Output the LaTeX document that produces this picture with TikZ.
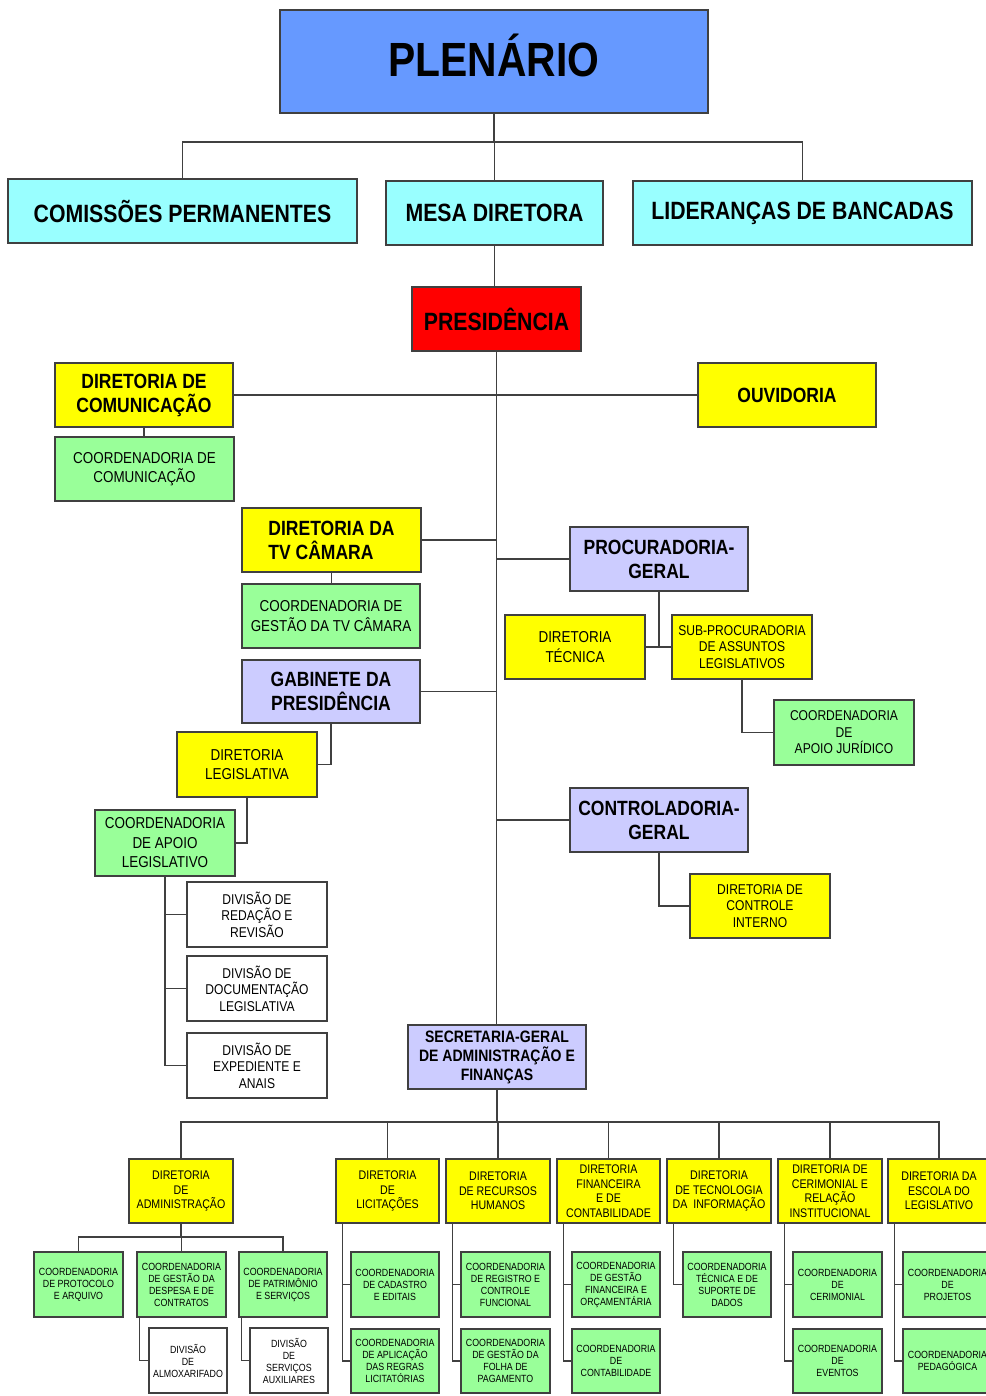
\documentclass[tikz,border=0pt]{standalone}
\usepackage{fontspec}
\setmainfont{Liberation Sans}[FakeStretch=0.85]
\usepackage{xcolor}
\usetikzlibrary{positioning}
\usetikzlibrary{calc}

\definecolor{plenblue}{HTML}{6699FF}
\definecolor{topcyan}{HTML}{99FFFF}
\definecolor{presred}{HTML}{FF0000}
\definecolor{diryellow}{HTML}{FFFF00}
\definecolor{coordgreen}{HTML}{99FF99}
\definecolor{gablilac}{HTML}{CCCCFF}
\definecolor{edgegray}{HTML}{404040}

\tikzset{
	orgbox/.style={draw=edgegray, line width=1.1pt, inner sep=0pt, align=center},
	boxsize/.style 2 args={minimum width=#1pt, minimum height=#2pt},
	blue box/.style={orgbox, fill=plenblue},
	cyan box/.style={orgbox, fill=topcyan},
	red box/.style={orgbox, fill=presred},
	yellow box/.style={orgbox, fill=diryellow},
	green box/.style={orgbox, fill=coordgreen},
	lilac box/.style={orgbox, fill=gablilac},
	white box/.style={orgbox, fill=white},
	hugebold/.style={font=\fontsize{48}{52}\selectfont\bfseries},
	topbold/.style={font=\fontsize{25}{29}\selectfont\bfseries},
	midbold/.style={font=\fontsize{20.6}{24}\selectfont\bfseries},
	secbold/.style={font=\fontsize{16.5}{19}\selectfont\bfseries},
	midreg/.style={font=\fontsize{15.8}{19.5}\selectfont},
	smallreg/.style={font=\fontsize{14.2}{16.5}\selectfont},
	dirsmall/.style={font=\fontsize{12.5}{14.5}\selectfont},
	coordsmall/.style={font=\fontsize{10.4}{12}\selectfont},
	link/.style={draw=edgegray, line width=1.1pt}
}

\begin{document}
\begin{tikzpicture}[x=1pt, y=-1pt]
	\useasboundingbox[fill=white] (0,0) rectangle (985,1396);

	% top level
	\node[blue box, hugebold, boxsize={428}{103}, text height=34pt, text depth=4pt] (plenario) at (494,61.5) {PLEN\'ARIO};
	\node[cyan box, topbold, boxsize={349}{64}] (comissoes) at (182.5,211) {COMISSÕES PERMANENTES};
	\node[cyan box, topbold, boxsize={217}{64}] (mesa) at (494.5,213) {MESA DIRETORA};
	\node[cyan box, topbold, boxsize={339}{64}] (liderancas) at (802.5,213) {LIDERANÇAS DE BANCADAS};
	\node[red box, topbold, boxsize={169}{64}] (presidencia) at (496.5,319) {PRESIDÊNCIA};

	\coordinate (plenbus) at (494,142);
	\draw[link] (plenario) -- (plenbus);
	\foreach \n in {comissoes, mesa, liderancas}
		\draw[link] (plenbus) -| (\n);
	\draw[link] (mesa.south) -- (mesa.south |- presidencia.north);

	% left and right branches
	\node[yellow box, midbold, boxsize={178}{64}] (dircom) at (144,395) {DIRETORIA DE\\COMUNICAÇÃO};
	\node[yellow box, midbold, boxsize={178}{64}] (ouvidoria) at (787,395) {OUVIDORIA};
	\node[green box, midreg, boxsize={179}{64}] (coordcom) at (144.5,469) {COORDENADORIA DE\\COMUNICAÇÃO};
	\node[yellow box, midbold, boxsize={179}{64}, align=left] (dirtv) at (331.5,540) {DIRETORIA DA\\TV CÂMARA};
	\node[green box, midreg, boxsize={178}{64}] (coordtv) at (331,616) {COORDENADORIA DE\\GESTÃO DA TV CÂMARA};
	\node[lilac box, midbold, boxsize={178}{63}] (gabinete) at (331,691.5) {GABINETE DA\\PRESIDÊNCIA};
	\node[yellow box, midreg, boxsize={140}{65}] (dirleg) at (247,764.5) {DIRETORIA\\LEGISLATIVA};
	\node[green box, midreg, boxsize={140}{66}] (coordapleg) at (165,843) {COORDENADORIA\\DE APOIO\\LEGISLATIVO};
	\node[white box, smallreg, boxsize={140}{65}] (div1) at (257,914.5) {DIVISÃO DE\\REDAÇÃO E\\REVISÃO};
	\node[white box, smallreg, boxsize={140}{65}] (div2) at (257,988.5) {DIVISÃO DE\\DOCUMENTAÇÃO\\LEGISLATIVA};
	\node[white box, smallreg, boxsize={140}{65}] (div3) at (257,1065.5) {DIVISÃO DE\\EXPEDIENTE E\\ANAIS};

	\node[lilac box, midbold, boxsize={178}{64}] (procuradoria) at (659,559) {PROCURADORIA-\\GERAL};
	\node[yellow box, midreg, boxsize={140}{64}] (dirtecnica) at (575,647) {DIRETORIA\\TÉCNICA};
	\node[yellow box, smallreg, boxsize={140}{64}] (subproc) at (742,647) {SUB-PROCURADORIA\\DE ASSUNTOS\\LEGISLATIVOS};
	\node[green box, smallreg, boxsize={140}{65}] (coordjur) at (844,732.5) {COORDENADORIA\\DE\\APOIO JURÍDICO};
	\node[lilac box, midbold, boxsize={178}{64}] (controladoria) at (659,820) {CONTROLADORIA-\\GERAL};
	\node[yellow box, smallreg, boxsize={140}{64}] (dircontrole) at (760,906) {DIRETORIA DE\\CONTROLE\\INTERNO};
	\node[lilac box, secbold, boxsize={178}{64}] (secretaria) at (497,1057) {SECRETARIA-GERAL\\DE ADMINISTRAÇÃO E\\FINANÇAS};

	% trunk
	\draw[link] (presidencia.south) -- (presidencia.south |- secretaria.north);
	\draw[link] (dircom) -- (ouvidoria);
	\draw[link] (dircom.south) -- (dircom.south |- coordcom.north);
	\foreach \n in {dirtv, gabinete}
		\draw[link] (\n.east) -- (\n.east -| presidencia.south);
	\foreach \n in {procuradoria, controladoria}
		\draw[link] (\n.west) -- (\n.west -| presidencia.south);
	\draw[link] (dirtv.south) -- (dirtv.south |- coordtv.north);
	\draw[link] (gabinete.south) |- (dirleg.east);
	\draw[link] (dirleg.south) |- (coordapleg.east);
	\draw[link] (coordapleg.south) |- (div3.west);
	\foreach \n in {div1, div2}
		\draw[link] (coordapleg.south |- \n.west) -- (\n.west);
	\draw[link] (dirtecnica) -- (subproc);
	\draw[link] (procuradoria.south) -- (procuradoria.south |- subproc.west);
	\draw[link] (subproc.south) |- (coordjur.west);
	\draw[link] (controladoria.south) |- (dircontrole.west);

	% secretaria directorates
	\node[yellow box, dirsmall, boxsize={104}{64}] (diradm) at (181,1191) {DIRETORIA\\DE\\ADMINISTRAÇÃO};
	\node[yellow box, dirsmall, boxsize={103}{64}] (dirlic) at (387.5,1191) {DIRETORIA\\DE\\LICITAÇÕES};
	\node[yellow box, dirsmall, boxsize={104}{64}] (dirrh) at (498,1191) {DIRETORIA\\DE RECURSOS\\HUMANOS};
	\node[yellow box, dirsmall, boxsize={103}{64}] (dirfin) at (608.5,1191) {DIRETORIA\\FINANCEIRA\\E DE\\CONTABILIDADE};
	\node[yellow box, dirsmall, boxsize={104}{64}] (dirtec) at (719,1191) {DIRETORIA\\DE TECNOLOGIA\\DA~~INFORMAÇÃO};
	\node[yellow box, dirsmall, boxsize={104}{64}] (dircer) at (830,1191) {DIRETORIA DE\\CERIMONIAL E\\RELAÇÃO\\INSTITUCIONAL};
	\node[yellow box, dirsmall, boxsize={102}{64}] (diresc) at (939,1191) {DIRETORIA DA\\ESCOLA DO\\LEGISLATIVO};

	\coordinate (secbus) at (497,1122);
	\draw[link] (secretaria) -- (secbus);
	\foreach \n in {diradm, dirlic, dirrh, dirfin, dirtec, dircer, diresc}
		\draw[link] (secbus) -| (\n);

	% coordenadorias
	\node[green box, coordsmall, boxsize={89}{65}] (coordprot) at (78.5,1284.5) {COORDENADORIA\\DE PROTOCOLO\\E ARQUIVO};
	\node[green box, coordsmall, boxsize={89}{65}] (coordgest) at (181.5,1284.5) {COORDENADORIA\\DE GESTÃO DA\\DESPESA E DE\\CONTRATOS};
	\node[green box, coordsmall, boxsize={88}{65}] (coordpat) at (283,1284.5) {COORDENADORIA\\DE PATRIMÔNIO\\E SERVIÇOS};
	\node[white box, coordsmall, boxsize={78}{65}] (divalm) at (188,1360.5) {DIVISÃO\\DE\\ALMOXARIFADO};
	\node[white box, coordsmall, boxsize={78}{65}] (divserv) at (289,1360.5) {DIVISÃO\\DE\\SERVIÇOS\\AUXILIARES};
	\node[green box, coordsmall, boxsize={88}{65}] (coordcad) at (395,1284.5) {COORDENADORIA\\DE CADASTRO\\E EDITAIS};
	\node[green box, coordsmall, boxsize={88}{64}] (coordaplic) at (395,1361) {COORDENADORIA\\DE APLICAÇÃO\\DAS REGRAS\\LICITATÓRIAS};
	\node[green box, coordsmall, boxsize={89}{65}] (coordreg) at (505.5,1284.5) {COORDENADORIA\\DE REGISTRO E\\CONTROLE\\FUNCIONAL};
	\node[green box, coordsmall, boxsize={89}{64}] (coordfolha) at (505.5,1361) {COORDENADORIA\\DE GESTÃO DA\\FOLHA DE\\PAGAMENTO};
	\node[green box, coordsmall, boxsize={88}{65}] (coordgfin) at (616,1284.5) {COORDENADORIA\\DE GESTÃO\\FINANCEIRA E\\ORÇAMENTÁRIA};
	\node[green box, coordsmall, boxsize={88}{64}] (coordcont) at (616,1361) {COORDENADORIA\\DE\\CONTABILIDADE};
	\node[green box, coordsmall, boxsize={88}{65}] (coordtecsup) at (727,1284.5) {COORDENADORIA\\TÉCNICA E DE\\SUPORTE DE\\DADOS};
	\node[green box, coordsmall, boxsize={89}{65}] (coordcer) at (837.5,1284.5) {COORDENADORIA\\DE\\CERIMONIAL};
	\node[green box, coordsmall, boxsize={89}{64}] (coordev) at (837.5,1361) {COORDENADORIA\\DE\\EVENTOS};
	\node[green box, coordsmall, boxsize={89}{65}] (coordproj) at (947.5,1284.5) {COORDENADORIA\\DE\\PROJETOS};
	\node[green box, coordsmall, boxsize={89}{64}] (coordped) at (947.5,1361) {COORDENADORIA\\PEDAGÓGICA};

	% administracao
	\coordinate (admbus) at (181,1237);
	\draw[link] (diradm) -- (admbus);
	\foreach \n in {coordprot, coordgest, coordpat}
		\draw[link] (admbus) -| (\n);
	\draw[link] ([xshift=3pt]coordgest.south west) |- (divalm.west);
	\draw[link] ([xshift=3pt]coordpat.south west) |- (divserv.west);

	% stems of the other directorates
	\foreach \d/\a/\b in {dirlic/coordcad/coordaplic, dirrh/coordreg/coordfolha, dirfin/coordgfin/coordcont, dircer/coordcer/coordev, diresc/coordproj/coordped}{
		\coordinate (\d stem) at ([xshift=7pt]\d.south west);
		\draw[link] (\d stem) |- (\b.west);
		\draw[link] (\d stem |- \a.west) -- (\a.west);
	}
	\draw[link] ([xshift=7pt]dirtec.south west) |- (coordtecsup.west);
\end{tikzpicture}
\end{document}
